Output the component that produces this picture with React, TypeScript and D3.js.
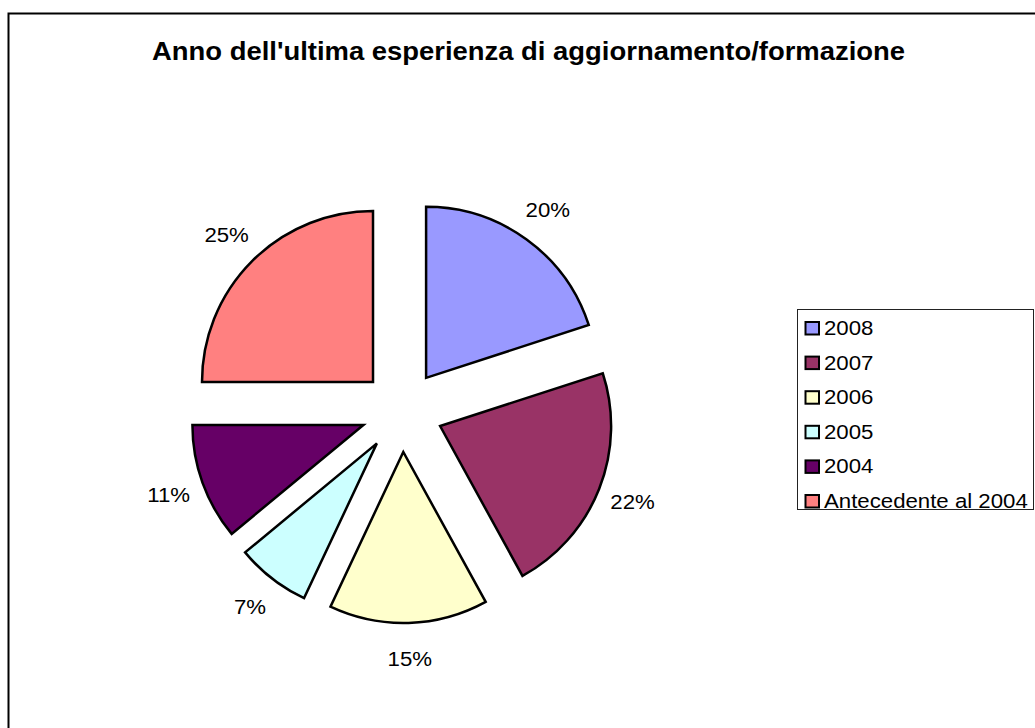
import React, { useEffect, useRef } from 'react';
import * as d3 from 'd3';

const categories = ['2008', '2007', '2006', '2005', '2004', 'Antecedente al 2004'];
const shares = [20, 22, 15, 7, 11, 25];
const colors = ['#9999FF', '#993366', '#FFFFCC', '#CCFFFF', '#660066', '#FF8080'];
const title = "Anno dell'ultima esperienza di aggiornamento/formazione";

const WIDTH = 1035;
const HEIGHT = 728;
const FONT = "'Liberation Sans', Arial, sans-serif";
// the original text is drawn a little wider than Arial's normal proportions
const STRETCH = 1.14;
const TITLE_STRETCH = 1.076;

interface Slice {
  name: string;
  value: number;
  color: string;
}

const App: React.FC = () => {
  const svgRef = useRef<SVGSVGElement>(null);

  useEffect(() => {
    if (!svgRef.current) return;
    const svg = d3.select(svgRef.current);
    svg.selectAll('*').remove();

    const data: Slice[] = categories.map((name, i) => ({
      name,
      value: shares[i],
      color: colors[i],
    }));

    // outer frame
    svg.append('rect')
      .attr('x', 8.5)
      .attr('y', 13.5)
      .attr('width', WIDTH + 20)
      .attr('height', HEIGHT + 20)
      .attr('fill', '#fff')
      .attr('stroke', '#000')
      .attr('stroke-width', 2);

    svg.append('g')
      .attr('transform', `translate(528.5,60) scale(${TITLE_STRETCH},1)`)
      .append('text')
      .attr('text-anchor', 'middle')
      .attr('font-family', FONT)
      .attr('font-weight', 'bold')
      .attr('font-size', 25.5)
      .text(title);

    const cx = 402;
    const cy = 411;
    const radius = 171;
    const explode = 41;
    const labelRadius = 248;

    const pie = d3.pie<Slice>().sort(null).value(d => d.value);
    const arcs = pie(data);
    const arc = d3.arc<d3.PieArcDatum<Slice>>().innerRadius(0).outerRadius(radius);
    const labelArc = d3.arc<d3.PieArcDatum<Slice>>()
      .innerRadius(labelRadius)
      .outerRadius(labelRadius);

    const g = svg.append('g').attr('transform', `translate(${cx},${cy})`);

    g.selectAll('path')
      .data(arcs)
      .enter()
      .append('path')
      .attr('transform', d => {
        const mid = (d.startAngle + d.endAngle) / 2;
        return `translate(${Math.sin(mid) * explode},${-Math.cos(mid) * explode})`;
      })
      .attr('d', arc)
      .attr('fill', d => d.data.color)
      .attr('stroke', '#000')
      .attr('stroke-width', 2.5)
      .attr('stroke-linejoin', 'miter');

    g.selectAll('g.pct')
      .data(arcs)
      .enter()
      .append('g')
      .attr('class', 'pct')
      .attr('transform', d => {
        const [x, y] = labelArc.centroid(d);
        return `translate(${x},${y}) scale(${STRETCH},1)`;
      })
      .append('text')
      .attr('dy', '0.35em')
      .attr('text-anchor', 'middle')
      .attr('font-family', FONT)
      .attr('font-size', 19.5)
      .text(d => `${d.data.value}%`);

    // legend
    const legend = svg.append('g');
    legend.append('rect')
      .attr('x', 797.5)
      .attr('y', 309.5)
      .attr('width', 236)
      .attr('height', 200)
      .attr('fill', '#fff')
      .attr('stroke', '#222')
      .attr('stroke-width', 1);

    const rowY = d3.scaleLinear().domain([0, categories.length - 1]).range([328, 501]);

    const rows = legend.selectAll('g.row')
      .data(data)
      .enter()
      .append('g')
      .attr('class', 'row')
      .attr('transform', (_, i) => `translate(0,${rowY(i)})`);

    rows.append('rect')
      .attr('x', 805.5)
      .attr('y', -6)
      .attr('width', 13.5)
      .attr('height', 12.5)
      .attr('fill', d => d.color)
      .attr('stroke', '#000')
      .attr('stroke-width', 2);

    rows.append('g')
      .attr('transform', `translate(824,0) scale(${STRETCH},1)`)
      .append('text')
      .attr('dy', '0.36em')
      .attr('font-family', FONT)
      .attr('font-size', 19.5)
      .text(d => d.name);
  }, []);

  return (
    <svg
      ref={svgRef}
      width={WIDTH}
      height={HEIGHT}
      style={{ position: 'absolute', left: 0, top: 0, background: '#fff' }}
    />
  );
};

export default App;
